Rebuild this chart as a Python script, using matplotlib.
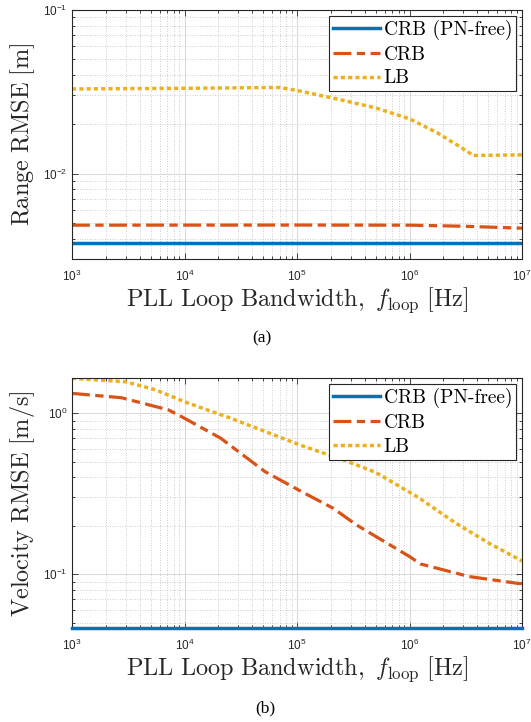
import numpy as np
import matplotlib
matplotlib.use("Agg")
import matplotlib.pyplot as plt
from matplotlib.ticker import LogLocator, NullFormatter

plt.rcParams['font.family'] = ['Liberation Sans', 'DejaVu Sans']
plt.rcParams['mathtext.fontset'] = 'dejavusans'

# ---- data (a) range ----
f_range = [1e3, 1e4, 7e4, 1e5, 2.2e5, 5e5, 1e6, 1.75e6, 2.75e6, 3.7e6, 1e7]
lb_range = [0.0329, 0.0332, 0.0336, 0.0322, 0.0287, 0.0252, 0.0216, 0.0178, 0.0147, 0.0129, 0.0130]
f_crb_range = [1e3, 1e5, 1e6, 3e6, 1e7]
crb_range = [0.00483, 0.00484, 0.00483, 0.00476, 0.00463]
f_free = [1e3, 1e7]
crb_free_range = [0.00378, 0.00378]

# ---- data (b) velocity ----
f_vel_lb = [1e3, 3e3, 5.5e3, 1e4, 2.6e4, 1.1e5, 2.6e5, 5e5, 1.2e6, 2.6e6, 5.1e6, 1e7]
lb_vel = [1.65, 1.57, 1.40, 1.18, 0.93, 0.63, 0.513, 0.43, 0.30, 0.207, 0.156, 0.121]
f_vel_crb = [1e3, 2.75e3, 7.2e3, 9.5e3, 2.1e4, 5.2e4, 1.1e5, 2.1e5, 3.4e5, 1e6, 1.25e6, 3.4e6, 9e6, 1e7]
crb_vel = [1.33, 1.25, 1.05, 0.95, 0.70, 0.434, 0.326, 0.257, 0.202, 0.129, 0.116, 0.0968, 0.088, 0.0875]
crb_free_vel = [0.0466, 0.0466]

labels = ['CRB (PN-free)', 'CRB', 'LB']
captions = ['(a)', '(b)']
ylabels = [r'$\mathrm{Range\ RMSE\ [m]}$', r'$\mathrm{Velocity\ RMSE\ [m/s]}$']
xlabel = r'$\mathrm{PLL\ Loop\ Bandwidth,}\ f_{\mathrm{loop}}\mathrm{\ [Hz]}$'

blue = (0, 0.447, 0.741)
orange = (0.85, 0.325, 0.098)
yellow = (0.929, 0.694, 0.125)
axc = (0.15, 0.15, 0.15)

W, H = 531, 722
fig = plt.figure(figsize=(W/100, H/100), dpi=100)
ax1 = fig.add_axes([72/W, 1-259/H, 450/W, 249/H])
ax2 = fig.add_axes([72/W, 1-628.3/H, 450/W, 250/H])

def style(ax):
    ax.set_xscale('log'); ax.set_yscale('log')
    ax.set_xlim(1e3, 1e7)
    ax.grid(True, which='major', color=(0.86, 0.86, 0.86), lw=0.8, ls='-')
    ax.grid(True, which='minor', color=(0.74, 0.74, 0.74), lw=0.6, ls=(0, (1, 2)))
    ax.set_axisbelow(True)
    ax.xaxis.set_major_locator(LogLocator(base=10, numticks=10))
    ax.xaxis.set_minor_locator(LogLocator(base=10, subs=np.arange(2, 10), numticks=20))
    ax.yaxis.set_minor_locator(LogLocator(base=10, subs=np.arange(2, 10), numticks=20))
    ax.xaxis.set_minor_formatter(NullFormatter())
    ax.yaxis.set_minor_formatter(NullFormatter())
    ax.tick_params(which='both', direction='in', top=True, right=True, colors=axc,
                   labelsize=8.5, labelcolor=axc, width=0.6)
    ax.tick_params(axis='x', which='major', pad=7)
    ax.tick_params(which='major', length=4)
    ax.tick_params(which='minor', length=2)
    for s in ax.spines.values():
        s.set_color(axc); s.set_linewidth(0.8)

dd = (0, (5.6, 1.7, 2.6, 1.7))
dot = (0, (1.2, 0.9))

# (a)
ax1.plot(f_free, crb_free_range, color=blue, lw=2.5, label=labels[0])
ax1.plot(f_crb_range, crb_range, color=orange, lw=2.3, ls=dd, dash_capstyle='butt', label=labels[1])
ax1.plot(f_range, lb_range, color=yellow, lw=2.5, ls=dot, dash_capstyle='butt', label=labels[2])
style(ax1)
ax1.set_ylim(3e-3, 1e-1)

# (b)
ax2.plot(f_free, crb_free_vel, color=blue, lw=2.5, label=labels[0], clip_on=False, zorder=3)
ax2.plot(f_vel_crb, crb_vel, color=orange, lw=2.3, ls=dd, dash_capstyle='butt', label=labels[1])
ax2.plot(f_vel_lb, lb_vel, color=yellow, lw=2.5, ls=dot, dash_capstyle='butt', label=labels[2])
style(ax2)
ax2.set_ylim(0.0462, 1.65)

for ax, yl, cap in zip([ax1, ax2], ylabels, captions):
    ax.set_ylabel(yl, fontsize=17.5, math_fontfamily='cm', color=axc, labelpad=4)
    ax.set_xlabel(xlabel, fontsize=17.5, math_fontfamily='cm', color=axc, labelpad=1)
    leg = ax.legend(loc='upper right', frameon=True, fancybox=False,
                    edgecolor=axc, framealpha=1, handlelength=2.4, handletextpad=0.2,
                    borderpad=0.2, labelspacing=0.3, borderaxespad=0.3,
                    prop={'family': 'cmr10', 'size': 14})
    leg.get_frame().set_linewidth(0.8)
    for t in leg.get_texts():
        t.set_color('black')

fig.text(262/W, 1-338/H, captions[0], ha='center', va='center', fontsize=12.5, family='Liberation Serif')
fig.text(265/W, 1-708/H, captions[1], ha='center', va='center', fontsize=12.5, family='Liberation Serif')

fig.savefig('out.png', dpi=100)
